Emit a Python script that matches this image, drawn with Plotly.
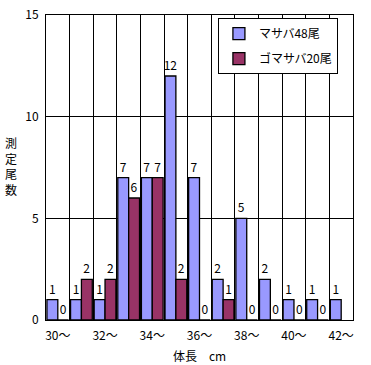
import plotly.graph_objects as go

categories = ["30～", "31～", "32～", "33～", "34～", "35～", "36～", "37～", "38～", "39～", "40～", "41～", "42～"]
masaba = [1, 1, 1, 7, 7, 12, 7, 2, 5, 2, 1, 1, 1]
gomasaba = [0, 2, 2, 6, 7, 2, 0, 1, 0, 0, 0, 0, None]
tick_labels = ["30～", "32～", "34～", "36～", "38～", "40～", "42～"]

font = "Noto Sans CJK JP"
x = list(range(len(categories)))

fig = go.Figure()
fig.add_trace(go.Bar(
    x=x, y=masaba, name="マサバ48尾", legendgroup="a",
    marker=dict(color="#9999FF", line=dict(color="black", width=1.3)),
    text=[str(v) for v in masaba], textposition="outside", cliponaxis=False,
    constraintext="none", textangle=0,
    textfont=dict(family=font, size=12, color="black"),
))
fig.add_trace(go.Bar(
    x=x, y=gomasaba, name="ゴマサバ20尾", legendgroup="b",
    marker=dict(color="#993366", line=dict(color="black", width=1.3)),
    text=["" if v is None else str(v) for v in gomasaba], textposition="outside", cliponaxis=False,
    constraintext="none", textangle=0,
    textfont=dict(family=font, size=12, color="black"),
))

fig.update_layout(
    width=371, height=365,
    margin=dict(l=46, r=18, t=15, b=45, autoexpand=False),
    paper_bgcolor="white", plot_bgcolor="white",
    font=dict(family=font, size=12, color="black"),
    barmode="group", bargap=0.08, bargroupgap=0,
    showlegend=True,
    legend=dict(
        x=0.56, y=0.99, xanchor="left", yanchor="top",
        bgcolor="white", bordercolor="black", borderwidth=1,
        font=dict(family=font, size=12, color="black"),
        tracegroupgap=6, itemwidth=30,
    ),
    xaxis=dict(
        range=[-0.5, 12.5], tickmode="array",
        tickvals=list(range(0, 13, 2)), ticktext=tick_labels,
        showgrid=False, zeroline=False, showline=True, linecolor="black", linewidth=1,
        mirror=True, ticks="", ticklen=0, automargin=False, ticklabelstandoff=5,
        minor=dict(tickmode="array", tickvals=[i - 0.5 for i in range(14)],
                   showgrid=True, gridcolor="black", gridwidth=1, ticks=""),
    ),
    yaxis=dict(
        range=[0, 15], tickvals=[0, 5, 10, 15],
        showgrid=True, gridcolor="black", gridwidth=1, automargin=False,
        zeroline=False, showline=True, linecolor="black", linewidth=1, mirror=True,
        ticks="", ticklabelstandoff=4,
    ),
    annotations=[
        dict(text="測<br>定<br>尾<br>数", xref="paper", yref="paper",
             x=-0.115, y=0.505, xanchor="center", yanchor="middle", showarrow=False,
             font=dict(family=font, size=12, color="black")),
        dict(text="体長　cm", xref="paper", yref="paper",
             x=0.5, y=-0.082, xanchor="center", yanchor="top", showarrow=False,
             font=dict(family=font, size=12, color="black")),
    ],
)

fig.write_html("out.html", config={"displayModeBar": False},
               post_script="document.body.style.margin='0';")
